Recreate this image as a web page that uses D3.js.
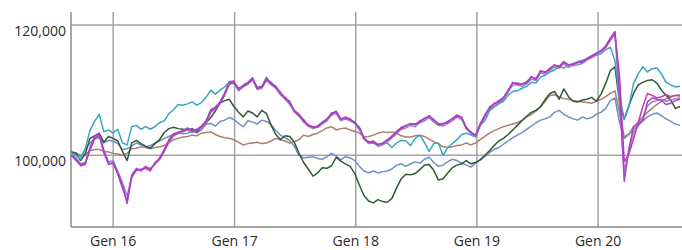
<!DOCTYPE html>
<html>
<head>
<meta charset="utf-8">
<script src="https://cdn.jsdelivr.net/npm/d3@7"></script>
<style>
  body { margin: 0; background: #fff; }
  svg { display: block; font-family: "Open Sans", "Noto Sans", sans-serif; }
  .tick-label { font-size: 14px; fill: #2a2a2a; }
</style>
</head>
<body>
<svg id="chart" width="682" height="250"></svg>
<script>
// ---------- data (values in thousands, one point every 14 days) ----------
const firstDate = new Date(2015, 7, 28);
const stepDays = 14;

const yTicks = [100, 120];
const xTickDates = [new Date(2016, 0, 1), new Date(2017, 0, 1), new Date(2018, 0, 1), new Date(2019, 0, 1), new Date(2020, 0, 1)];
const xTickLabels = ["Gen 16", "Gen 17", "Gen 18", "Gen 19", "Gen 20"];

const brown = [100.5,100.4,100.0,100.2,100.7,100.9,100.9,100.6,100.5,100.3,
  100.2,100.0,100.3,101.0,101.1,101.3,101.2,101.0,101.2,101.3,
  101.5,101.9,102.4,102.6,102.8,102.9,103.1,103.0,103.4,103.5,
  103.6,103.2,102.9,102.7,102.6,102.4,102.0,101.6,101.8,101.9,
  102.0,101.8,101.9,102.2,102.6,102.4,102.2,101.9,102.1,102.4,
  103.1,102.9,103.2,103.4,103.8,104.2,104.4,103.9,104.1,104.2,
  103.9,103.7,103.4,102.8,102.9,103.1,103.4,103.6,103.5,103.6,
  103.4,103.0,102.8,102.8,103.0,103.1,102.9,102.5,102.1,101.8,
  101.3,101.2,101.3,101.5,101.6,101.9,101.6,101.9,102.4,102.9,
  103.4,103.8,104.1,104.4,104.6,104.8,105.0,105.4,105.9,106.3,
  106.8,107.4,108.3,109.2,109.3,109.0,108.7,108.6,108.4,108.3,
  108.2,108.1,108.0,108.3,108.6,109.0,109.5,109.9,106.5,102.8,
  103.3,104.4,105.1,105.9,106.6,107.2,107.8,108.3,108.7,109.0,
  109.2,109.3];

const slate = [100.5,100.3,99.8,100.9,101.9,102.5,102.7,101.9,102.3,102.2,
  101.8,100.9,101.0,101.4,101.9,101.6,101.3,101.5,101.9,102.2,
  102.6,102.9,103.2,103.5,103.3,103.4,103.7,103.5,103.9,104.8,
  104.9,104.5,105.2,105.4,105.8,105.5,104.9,104.4,105.3,105.1,
  104.8,105.4,105.2,104.7,103.8,103.1,102.7,102.3,101.4,100.0,
  99.6,99.7,99.8,99.5,99.4,99.8,100.3,99.9,99.3,99.8,
  99.6,99.2,98.3,97.6,97.3,97.6,97.3,97.5,97.6,97.9,
  98.5,98.7,98.3,98.7,99.0,98.8,99.4,99.7,98.9,98.3,
  98.5,99.0,99.4,99.2,98.8,98.5,98.2,98.8,99.3,99.8,
  100.4,100.9,101.2,101.7,102.2,102.7,103.1,103.5,104.0,104.5,
  105.0,105.4,105.6,105.9,106.6,106.9,106.3,105.9,105.6,105.4,
  105.9,105.6,105.8,106.3,106.6,107.2,108.4,108.8,105.0,102.6,
  103.2,104.0,104.6,105.3,105.9,106.3,106.5,106.1,105.6,105.2,
  104.8,104.6];

const green = [100.5,100.3,99.2,100.2,102.6,103.0,103.4,102.0,102.9,102.6,
  102.2,100.6,99.2,101.9,102.3,101.8,101.4,101.1,101.8,102.4,
  103.5,104.1,104.3,104.1,104.0,103.9,104.1,103.5,104.3,105.0,
  105.8,106.8,108.0,108.4,108.6,107.5,106.6,105.9,106.8,106.5,
  105.9,106.9,106.4,104.6,103.2,102.4,103.0,102.9,102.0,100.3,
  98.9,97.9,96.8,97.3,98.1,98.0,98.4,99.7,99.1,98.7,
  98.3,97.2,95.4,93.8,93.0,92.7,93.2,92.9,92.8,93.4,
  95.0,96.4,97.1,97.0,97.2,97.8,98.5,98.6,97.7,96.2,
  96.4,97.3,98.1,98.5,98.7,99.2,98.7,98.9,99.3,100.0,
  100.7,101.5,102.2,102.6,103.2,103.9,104.6,105.3,106.0,106.6,
  106.9,107.5,108.6,109.5,109.8,108.6,110.2,109.0,108.3,108.2,
  108.5,108.6,108.9,108.3,109.4,111.0,113.0,113.6,108.0,105.6,
  107.6,109.5,110.8,111.2,111.5,111.6,111.1,110.0,109.2,108.5,
  107.2,107.5];

const teal = [100.4,100.0,99.4,101.0,103.8,105.2,106.3,103.6,103.9,103.4,
  104.0,101.9,101.6,104.4,104.6,104.0,104.4,104.0,104.4,105.0,
  105.3,106.4,107.0,107.8,107.7,107.9,108.2,107.7,108.1,108.9,
  110.0,109.4,110.0,110.5,111.2,111.0,110.0,110.6,111.0,111.8,
  110.2,110.5,112.0,110.9,110.5,109.4,108.8,108.0,106.8,106.2,
  105.2,104.6,104.2,104.4,105.0,105.4,106.4,106.6,105.4,105.8,
  105.4,105.0,104.1,102.6,101.9,102.1,101.5,101.8,101.9,101.2,
  101.9,102.3,102.2,101.5,102.6,103.1,102.0,100.6,101.8,101.9,
  100.0,101.2,101.8,102.4,103.2,103.4,103.1,102.8,104.6,105.3,
  106.8,107.4,107.9,108.3,109.2,109.8,109.9,110.3,110.6,111.2,
  111.1,112.0,112.3,112.8,113.1,113.6,113.4,113.9,114.0,114.4,
  114.6,114.8,115.0,115.4,115.6,116.2,116.6,114.5,109.0,105.5,
  107.5,111.0,112.5,113.6,112.8,113.3,113.4,112.5,111.2,110.8,
  110.5,110.6];

const lavender = [100.1,99.6,98.7,98.9,100.8,102.5,103.0,100.9,99.0,99.2,
  97.6,95.8,93.8,96.5,97.8,97.9,98.1,98.0,98.6,99.4,
  100.6,102.0,103.0,103.3,103.6,103.9,103.5,103.8,104.2,105.0,
  106.6,107.1,107.9,109.2,110.9,111.1,109.9,110.5,110.9,111.6,
  110.1,110.3,111.5,110.8,110.3,109.3,108.6,107.8,106.7,106.0,
  105.1,104.5,104.1,104.3,104.8,105.3,106.2,106.4,105.3,105.6,
  105.3,104.9,103.9,102.5,101.8,101.9,101.4,101.6,102.0,102.7,
  103.3,104.0,104.2,104.6,104.4,105.0,105.3,105.8,105.1,104.6,
  104.5,104.9,105.3,105.9,105.5,104.1,103.3,102.9,104.6,105.8,
  107.1,107.6,108.1,108.5,109.7,110.8,110.8,110.6,111.0,111.7,
  111.5,112.7,112.4,113.1,113.5,113.4,114.1,113.5,113.8,113.9,
  114.1,114.6,115.0,115.4,115.7,116.5,117.6,118.8,108.0,97.6,
  100.5,103.5,104.5,105.8,107.6,108.2,108.4,108.6,108.3,108.5,
  108.7,108.8];

const magenta = [100.0,99.2,98.5,98.8,100.9,102.6,103.1,100.4,98.8,98.7,
  97.3,95.4,92.6,96.8,97.7,97.8,98.0,97.6,98.9,99.4,
  100.7,102.2,103.1,103.6,103.7,104.0,103.9,103.8,104.4,105.1,
  106.8,107.2,108.0,109.4,111.0,111.2,110.3,110.6,111.0,111.7,
  110.5,110.4,111.6,111.2,110.4,109.7,108.7,108.3,106.7,106.1,
  105.5,104.5,104.4,104.3,105.0,105.6,106.3,106.8,105.6,105.7,
  105.6,104.9,104.3,102.5,102.1,102.0,101.7,101.8,102.4,102.8,
  103.7,104.1,104.6,104.8,104.8,105.1,105.7,105.9,105.5,104.7,
  104.9,105.0,105.7,106.0,105.9,104.1,103.6,103.0,104.7,106.2,
  107.2,108.0,108.2,108.9,109.8,111.2,110.9,111.0,111.1,112.1,
  111.6,112.9,112.8,113.2,113.9,113.5,114.3,113.9,113.9,114.3,
  114.3,114.8,115.2,115.6,116.1,116.6,117.8,118.6,112.0,99.0,
  100.2,102.5,105.0,107.5,109.5,109.2,108.8,109.0,109.3,109.0,
  109.2,109.1];

const purple = [100.0,99.4,98.4,98.6,101.2,102.9,103.3,100.6,98.6,98.9,
  97.1,95.0,93.0,97.0,98.0,97.6,98.3,97.8,98.8,99.6,
  100.9,102.4,103.3,103.5,103.8,104.2,103.7,104.0,104.5,105.3,
  107.0,107.4,108.2,109.6,111.3,111.4,110.1,110.8,111.2,111.9,
  110.3,110.6,111.8,111.0,110.6,109.5,108.9,108.1,106.9,106.3,
  105.3,104.7,104.3,104.5,105.1,105.5,106.5,106.7,105.5,105.9,
  105.5,105.1,104.2,102.7,102.0,102.2,101.6,101.9,102.3,103.0,
  103.6,104.3,104.5,104.9,104.7,105.3,105.6,106.1,105.4,104.9,
  104.8,105.2,105.6,106.2,105.8,104.3,103.5,103.1,104.9,106.1,
  107.4,107.9,108.4,108.8,110.0,111.1,111.1,110.9,111.3,112.0,
  111.8,113.0,112.7,113.4,113.8,113.7,114.4,113.8,114.1,114.2,
  114.4,114.9,115.3,115.7,116.0,116.8,118.0,119.0,110.0,96.0,
  101.0,104.4,104.8,105.3,108.2,108.8,108.6,108.4,107.8,108.0,
  108.4,108.6];

// drawing order: first is bottom
const series = [
  { values: brown, color: "#b07e6c" },
  { values: slate, color: "#6f8fc6" },
  { values: green, color: "#2f5a36" },
  { values: teal, color: "#3aa6bf" },
  { values: lavender, color: "#8e86cf" },
  { values: magenta, color: "#c63aa9" },
  { values: purple, color: "#a543c9" }
];

// ---------- layout ----------
const svg = d3.select("#chart");
const plot = { left: 71, right: 682, top: 12, bottom: 227 };

const x = d3.scaleTime()
  .domain([new Date(2015, 7, 27), new Date(2020, 8, 10)])
  .range([plot.left, plot.right]);

const y = d3.scaleLinear()
  .domain([89, 122])
  .range([plot.bottom, plot.top]);

const fmt = d3.format(",");

// grid
svg.append("g")
  .selectAll("line")
  .data(yTicks)
  .enter()
  .append("line")
  .attr("x1", plot.left).attr("x2", plot.right)
  .attr("y1", d => y(d)).attr("y2", d => y(d))
  .attr("stroke", "#a3a3a3")
  .attr("stroke-width", 1.5);

svg.append("g")
  .selectAll("line")
  .data(xTickDates)
  .enter()
  .append("line")
  .attr("x1", d => x(d)).attr("x2", d => x(d))
  .attr("y1", plot.top).attr("y2", plot.bottom)
  .attr("stroke", "#a3a3a3")
  .attr("stroke-width", 1.5);

// axis lines
svg.append("line")
  .attr("x1", plot.left).attr("x2", plot.left)
  .attr("y1", plot.top).attr("y2", plot.bottom)
  .attr("stroke", "#8a8a8a").attr("stroke-width", 1.5);
svg.append("line")
  .attr("x1", plot.left).attr("x2", plot.right)
  .attr("y1", plot.bottom).attr("y2", plot.bottom)
  .attr("stroke", "#8a8a8a").attr("stroke-width", 1.5);

// tick labels
svg.append("g")
  .selectAll("text")
  .data(yTicks)
  .enter()
  .append("text")
  .attr("class", "tick-label")
  .attr("x", plot.left - 5)
  .attr("y", d => y(d) + 11)
  .attr("text-anchor", "end")
  .text(d => fmt(d * 1000));

svg.append("g")
  .selectAll("text")
  .data(xTickDates)
  .enter()
  .append("text")
  .attr("class", "tick-label")
  .attr("x", d => x(d))
  .attr("y", 246)
  .attr("text-anchor", "middle")
  .text((d, i) => xTickLabels[i]);

// lines
const line = d3.line()
  .x((d, i) => x(d3.timeDay.offset(firstDate, i * stepDays)))
  .y(d => y(d));

svg.append("g")
  .selectAll("path")
  .data(series)
  .enter()
  .append("path")
  .attr("d", d => line(d.values))
  .attr("fill", "none")
  .attr("stroke", d => d.color)
  .attr("stroke-width", 1.5)
  .attr("stroke-linejoin", "round");
</script>
</body>
</html>
